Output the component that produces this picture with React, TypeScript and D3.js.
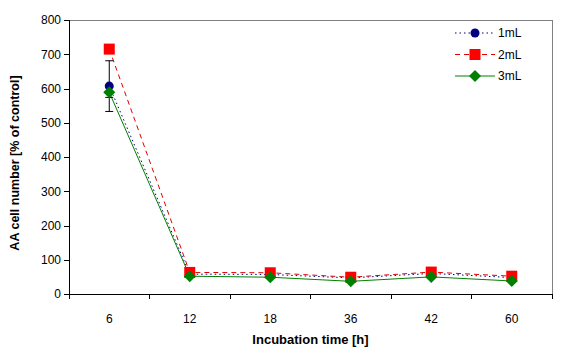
import * as d3 from "d3";
import { useEffect, useRef } from "react";

const categories = ["6", "12", "18", "36", "42", "60"];
const series1mL = [607, 58, 57, 47, 60, 48];
const series2mL = [715, 63, 62, 49, 64, 52];
const series3mL = [589, 52, 49, 37, 50, 38];
const errors1mL = [74, 0, 0, 0, 0, 0];
const errors2mL = [8, 0, 0, 0, 0, 0];
const errors3mL = [15, 0, 0, 0, 0, 0];
const yTicks = [0, 100, 200, 300, 400, 500, 600, 700, 800];

type Series = {
  name: string;
  values: number[];
  errors: number[];
  color: string;
  lineColor: string;
  dash: string;
  marker: "circle" | "square" | "diamond";
};

const seriesList: Series[] = [
  { name: "1mL", values: series1mL, errors: errors1mL, color: "#000080", lineColor: "#000080", dash: "1.5,3", marker: "circle" },
  { name: "2mL", values: series2mL, errors: errors2mL, color: "#FF0000", lineColor: "#E00000", dash: "5,4", marker: "square" },
  { name: "3mL", values: series3mL, errors: errors3mL, color: "#008000", lineColor: "#008000", dash: "", marker: "diamond" },
];

const App = () => {
  const ref = useRef<SVGSVGElement | null>(null);

  useEffect(() => {
    if (!ref.current) return;
    const svg = d3.select(ref.current);
    svg.selectAll("*").remove();
    const width = 561;
    const height = 351;
    const margin = { top: 20, right: 9, bottom: 57, left: 69 };
    const innerWidth = width - margin.left - margin.right;
    const innerHeight = height - margin.top - margin.bottom;
    const font = "Arial, 'Liberation Sans', sans-serif";

    const x = d3.scaleBand<string>().domain(categories).range([0, innerWidth]);
    const y = d3.scaleLinear().domain([0, 800]).range([innerHeight, 0]);
    const cx = (c: string) => x(c)! + x.bandwidth() / 2;

    svg.append("rect").attr("width", width).attr("height", height).attr("fill", "#fff");
    const g = svg.append("g").attr("transform", `translate(${margin.left},${margin.top})`);

    // plot frame (grey top/right)
    g.append("path")
      .attr("d", `M0,0H${innerWidth}V${innerHeight}`)
      .attr("fill", "none")
      .attr("stroke", "#808080")
      .attr("stroke-width", 1)
      .attr("shape-rendering", "crispEdges");

    const yAxis = g.append("g").call(d3.axisLeft(y).tickValues(yTicks).tickSize(5).tickPadding(3));
    const xAxis = g
      .append("g")
      .attr("transform", `translate(0,${innerHeight})`)
      .call(d3.axisBottom(x).tickSize(0).tickPadding(20));
    // x ticks at category boundaries
    const bounds = categories.map((c) => x(c)!).concat([innerWidth]);
    xAxis
      .selectAll("line.bound")
      .data(bounds)
      .join("line")
      .attr("class", "bound")
      .attr("x1", (d) => d)
      .attr("x2", (d) => d)
      .attr("y1", 0)
      .attr("y2", 5)
      .attr("stroke", "#000");
    [yAxis, xAxis].forEach((a) => {
      a.selectAll("path.domain").attr("stroke", "#000").attr("shape-rendering", "crispEdges");
      a.selectAll("line").attr("stroke", "#000").attr("shape-rendering", "crispEdges");
      a.selectAll("text").attr("font-family", font).attr("font-size", 12).attr("fill", "#000");
    });
    xAxis.select("path.domain").attr("d", `M0,0H${innerWidth}`);

    // lines
    seriesList.forEach((s) => {
      const line = d3
        .line<number>()
        .x((_, i) => cx(categories[i]))
        .y((d) => y(d));
      g.append("path")
        .datum(s.values)
        .attr("fill", "none")
        .attr("stroke", s.lineColor)
        .attr("stroke-width", 1)
        .attr("stroke-dasharray", s.dash)
        .attr("d", line);
    });

    // error bars
    seriesList.forEach((s) => {
      s.values.forEach((v, i) => {
        const e = s.errors[i];
        if (!e) return;
        const px = cx(categories[i]);
        const eg = g.append("g").attr("stroke", "#000").attr("stroke-width", 1);
        eg.append("line").attr("x1", px).attr("x2", px).attr("y1", y(v + e)).attr("y2", y(v - e));
        [v + e, v - e].forEach((yy) =>
          eg.append("line").attr("x1", px - 4).attr("x2", px + 4).attr("y1", y(yy)).attr("y2", y(yy))
        );
      });
    });

    const drawMarker = (sel: d3.Selection<SVGGElement, unknown, null, undefined>, s: Series, px: number, py: number) => {
      if (s.marker === "circle") {
        sel.append("circle").attr("cx", px).attr("cy", py).attr("r", 4.5).attr("fill", s.color);
      } else if (s.marker === "square") {
        sel.append("rect").attr("x", px - 5.5).attr("y", py - 5.5).attr("width", 11).attr("height", 11).attr("fill", s.color);
      } else {
        sel
          .append("path")
          .attr("d", `M${px},${py - 6}L${px + 6},${py}L${px},${py + 6}L${px - 6},${py}Z`)
          .attr("fill", s.color);
      }
    };

    seriesList.forEach((s) => {
      const mg = g.append("g");
      s.values.forEach((v, i) => drawMarker(mg, s, cx(categories[i]), y(v)));
    });

    // legend
    const lg = svg.append("g");
    seriesList.forEach((s, i) => {
      const ly = 33 + i * 21.5;
      lg.append("line")
        .attr("x1", 455)
        .attr("x2", 495)
        .attr("y1", ly)
        .attr("y2", ly)
        .attr("stroke", s.lineColor)
        .attr("stroke-dasharray", s.dash);
      drawMarker(lg, s, 475, ly);
      lg.append("text")
        .attr("x", 498)
        .attr("y", ly + 4)
        .attr("font-family", font)
        .attr("font-size", 12)
        .text(s.name);
    });

    // axis titles
    svg.append("text")
      .attr("x", margin.left + innerWidth / 2)
      .attr("y", 344)
      .attr("text-anchor", "middle")
      .attr("font-family", font)
      .attr("font-size", 13)
      .attr("font-weight", "bold")
      .text("Incubation time [h]");
    svg.append("text")
      .attr("transform", `translate(19,${margin.top + innerHeight / 2 + 6}) rotate(-90)`)
      .attr("text-anchor", "middle")
      .attr("font-family", font)
      .attr("font-size", 12.5)
      .attr("font-weight", "bold")
      .text("AA cell number [% of control]");
  }, []);

  return (
    <svg
      ref={ref}
      width={561}
      height={351}
      style={{ position: "absolute", left: 0, top: 0, display: "block" }}
    />
  );
};

export default App;
